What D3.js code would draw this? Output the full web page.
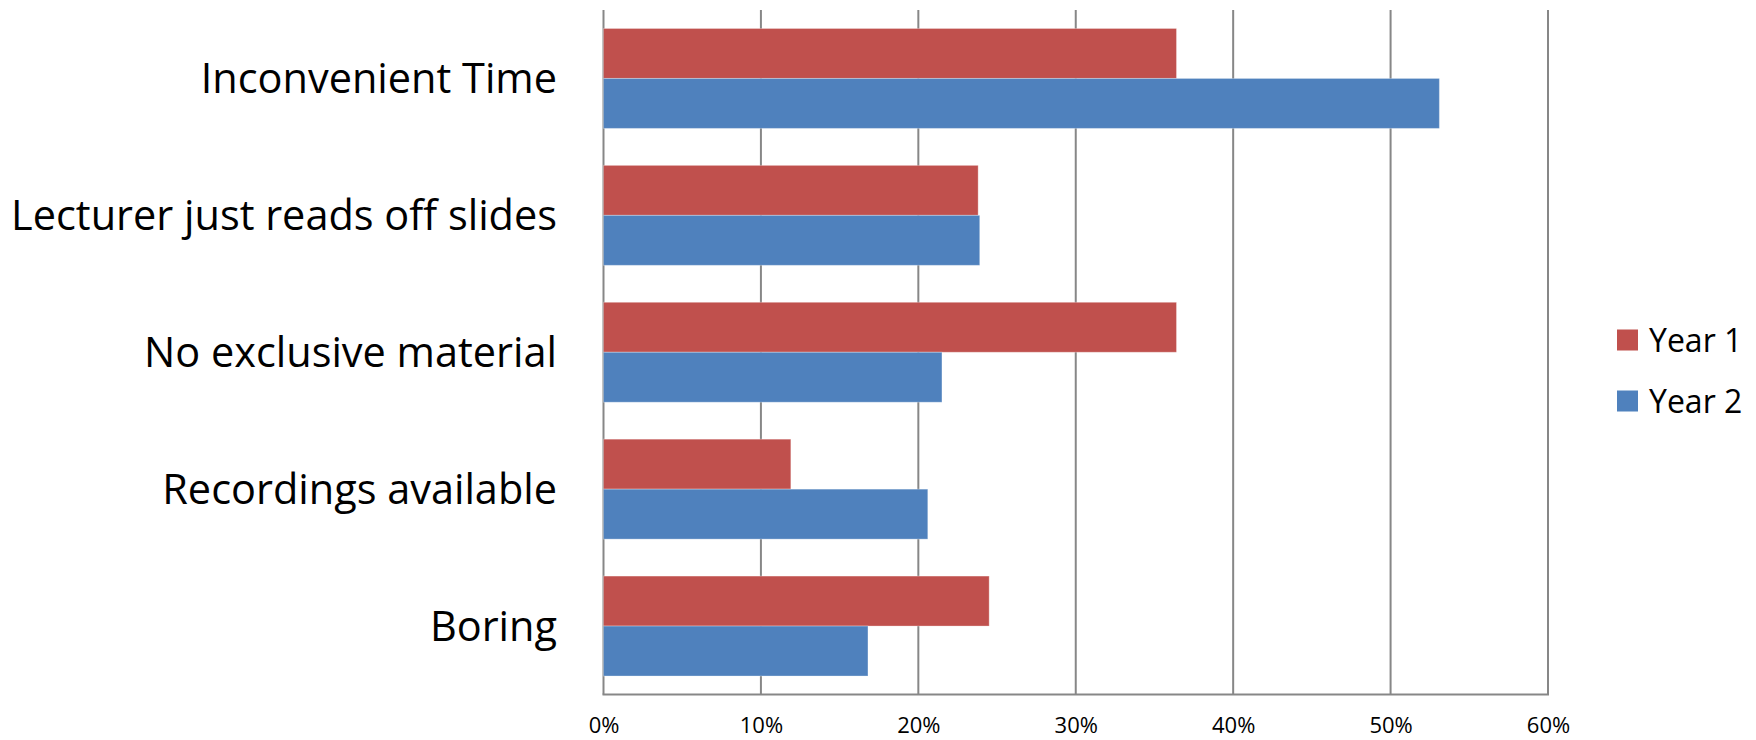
<!DOCTYPE html>
<html>
<head>
<meta charset="utf-8">
<script src="https://cdn.jsdelivr.net/npm/d3@7/dist/d3.min.js"></script>
<style>
  html, body { margin: 0; padding: 0; background: #fff; }
  svg { display: block; }
  text { font-family: "Open Sans", "Noto Sans", sans-serif; fill: #000; }
</style>
</head>
<body>
<svg id="chart" width="1756" height="740"></svg>
<script>
const categories = ["Inconvenient Time", "Lecturer just reads off slides", "No exclusive material", "Recordings available", "Boring"];
const seriesNames = ["Year 1", "Year 2"];
const year1 = [0.364, 0.238, 0.364, 0.119, 0.245];
const year2 = [0.531, 0.239, 0.215, 0.206, 0.168];
const tickValues = [0, 0.1, 0.2, 0.3, 0.4, 0.5, 0.6];
const colors = ["#C0504D", "#4F81BD"];

(function () {
const svg = d3.select("#chart");
const pLeft = 603.5, pRight = 1548, pTop = 10, pBottom = 694.5;

const x = d3.scaleLinear().domain([0, 0.6]).range([pLeft, pRight]);
const y = d3.scaleBand().domain(categories).range([pTop, pBottom]).paddingInner(0.27).paddingOuter(0.135);
const ySub = d3.scaleBand().domain(seriesNames).range([0, y.bandwidth()]);

const gridColor = "#878787";

// gridlines
svg.append("g").selectAll("line").data(tickValues).join("line")
  .attr("x1", d => x(d)).attr("x2", d => x(d))
  .attr("y1", pTop).attr("y2", pBottom)
  .attr("stroke", gridColor).attr("stroke-width", 2);

// bars
const seriesData = [year1, year2];
seriesData.forEach((vals, si) => {
  svg.append("g").selectAll("rect").data(categories).join("rect")
    .attr("x", x(0))
    .attr("y", c => y(c) + ySub(seriesNames[si]))
    .attr("width", (c, i) => x(vals[i]) - x(0))
    .attr("height", ySub.bandwidth())
    .attr("fill", colors[si])
    .attr("stroke", "rgba(255,255,255,0.3)")
    .attr("stroke-width", 1);
});

// bottom axis
const xAxis = d3.axisBottom(x).tickValues(tickValues).tickFormat(d3.format(".0%")).tickSize(0).tickPadding(23);
const gx = svg.append("g").attr("transform", `translate(0,${pBottom})`).call(xAxis);
gx.select(".domain").remove();
gx.selectAll("text").style("font-size", "22px").style("font-family", '"Open Sans", sans-serif').attr("fill", "#000");
svg.append("line").attr("x1", pLeft - 1).attr("x2", pRight + 1).attr("y1", pBottom).attr("y2", pBottom)
  .attr("stroke", gridColor).attr("stroke-width", 2);

// left axis (category labels)
const yAxis = d3.axisLeft(y).tickSize(0).tickPadding(0);
const gy = svg.append("g").attr("transform", `translate(557,0)`).call(yAxis);
gy.select(".domain").remove();
const labels = gy.selectAll("text").style("font-family", '"Open Sans", sans-serif').attr("fill", "#000").style("font-size", "40px");
let maxW = 0;
labels.each(function() { maxW = Math.max(maxW, this.getComputedTextLength()); });
const fs = 40 * 546 / maxW;
labels.style("font-size", fs + "px").attr("dy", "0.36em");

// legend
const legend = svg.append("g");
const legendY = [340, 401];
seriesNames.forEach((s, i) => {
  legend.append("rect").attr("x", 1617).attr("y", legendY[i] - 10.5).attr("width", 21).attr("height", 21).attr("fill", colors[i]);
  legend.append("text").attr("x", 1649).attr("y", legendY[i]).attr("dy", "0.36em")
    .style("font-size", "32px").text(s);
});
})();
</script>
</body>
</html>
